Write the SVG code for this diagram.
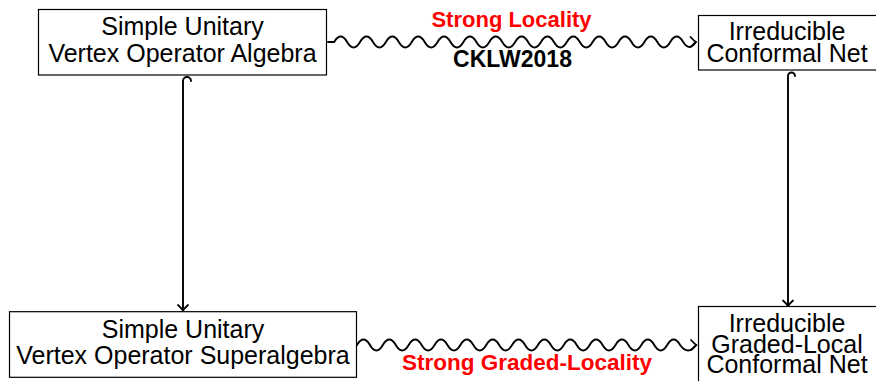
<svg xmlns="http://www.w3.org/2000/svg" width="876" height="381" viewBox="0 0 876 381">
<style>
.box{fill:#fff;stroke:#000;stroke-width:1.2}
.t{font-family:"Liberation Sans",Arial,sans-serif;font-size:25px;text-anchor:middle;fill:#000}
.conn{fill:none;stroke:#000;stroke-width:1.9;stroke-linecap:round;stroke-linejoin:round}
.lab{font-family:"Liberation Sans",Arial,sans-serif;font-weight:bold;text-anchor:middle}
.red{fill:#ff0000}
</style>
<defs>
<path id="tip" d="M -5.5,-5 Q -2,-1.2 0,0 Q -2,1.2 -5.5,5" fill="none" stroke="#000" stroke-width="1.8" stroke-linecap="round" stroke-linejoin="round"/>
</defs>
<rect width="876" height="381" fill="#fff"/>
<g id="connectors">
<path class="conn" d="M 328,42 L 334.2,42 q 6.4625,-11 12.925,0 t 12.925,0 t 12.925,0 t 12.925,0 t 12.925,0 t 12.925,0 t 12.925,0 t 12.925,0 t 12.925,0 t 12.925,0 t 12.925,0 t 12.925,0 t 12.925,0 t 12.925,0 t 12.925,0 t 12.925,0 t 12.925,0 t 12.925,0 t 12.925,0 t 12.925,0 t 12.925,0 t 12.925,0 t 12.925,0 t 12.925,0 t 12.925,0 t 12.925,0 t 12.925,0 q 6.3,10 12.6,0"/>
<use href="#tip" transform="translate(696,42)"/>
<path class="conn" d="M 357,345 q 6.4625,-11 12.925,0 t 12.925,0 t 12.925,0 t 12.925,0 t 12.925,0 t 12.925,0 t 12.925,0 t 12.925,0 t 12.925,0 t 12.925,0 t 12.925,0 t 12.925,0 t 12.925,0 t 12.925,0 t 12.925,0 t 12.925,0 t 12.925,0 t 12.925,0 t 12.925,0 t 12.925,0 t 12.925,0 t 12.925,0 t 12.925,0 t 12.925,0 t 12.925,0 q 8,11 16,0"/>
<use href="#tip" transform="translate(696.5,345)"/>
<path class="conn" d="M 191,81 A 4,4 0 0 0 183,81 L 183,310"/>
<use href="#tip" transform="translate(183,310.5) rotate(90)"/>
<path class="conn" d="M 795,76 A 3.5,3.5 0 0 0 788,76 L 788,305.5"/>
<use href="#tip" transform="translate(788,306) rotate(90)"/>
<text class="lab red" x="511.5" y="27" font-size="22">Strong Locality</text>
<text class="lab" x="512.5" y="66.7" font-size="23" fill="#000">CKLW2018</text>
<text class="lab red" x="527" y="370" font-size="22.5">Strong Graded-Locality</text>
</g>
<g id="vosa-unitary">
<rect class="box" x="38.5" y="9.5" width="288" height="65.5"/>
<text class="t" x="182.5" y="35">Simple Unitary</text>
<text class="t" x="182.5" y="62.3">Vertex Operator Algebra</text>
</g>
<g id="conformal-net">
<rect class="box" x="698.5" y="15.5" width="190" height="54.5"/>
<text class="t" x="787" y="40">Irreducible</text>
<text class="t" x="787" y="61.7">Conformal Net</text>
</g>
<g id="vosa-super">
<rect class="box" x="9.5" y="311.7" width="347" height="65.6"/>
<text class="t" x="183" y="338.3">Simple Unitary</text>
<text class="t" x="183" y="364">Vertex Operator Superalgebra</text>
</g>
<g id="graded-net">
<rect class="box" x="698.5" y="306.5" width="190" height="90"/>
<text class="t" x="787" y="331.7">Irreducible</text>
<text class="t" x="787" y="353.3">Graded-Local</text>
<text class="t" x="787" y="373.3">Conformal Net</text>
</g>
</svg>
